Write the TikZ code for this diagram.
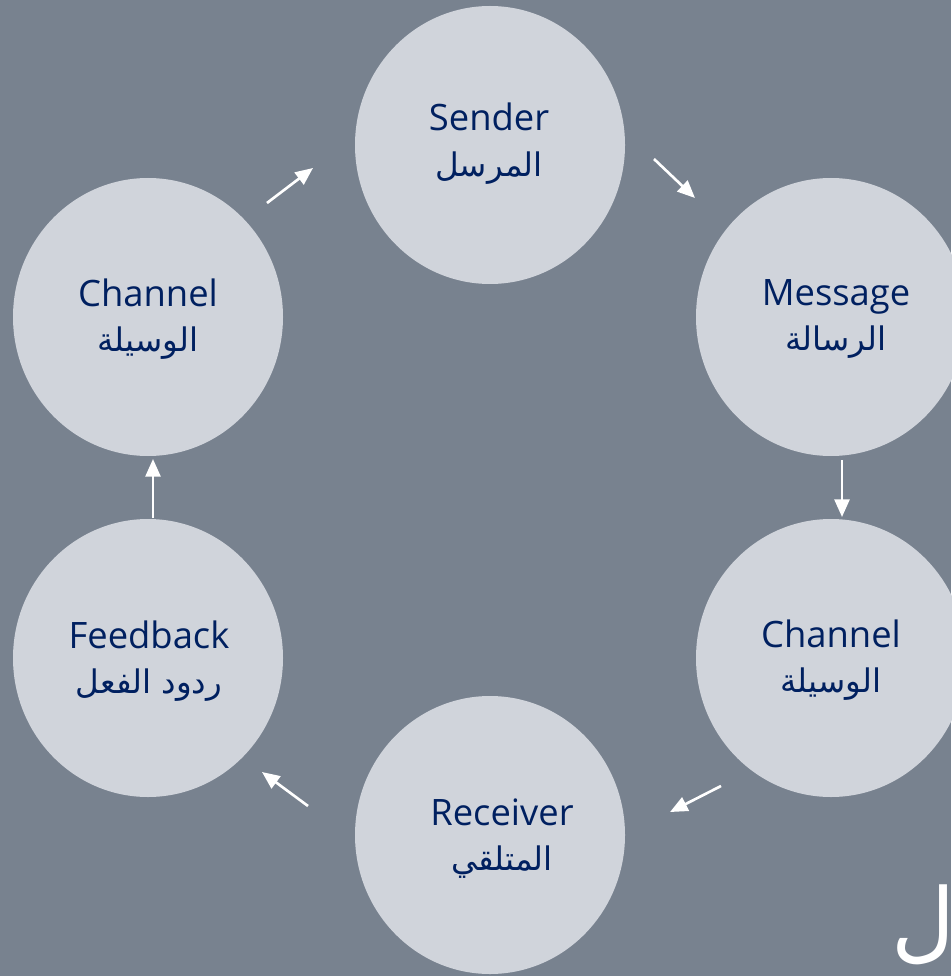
\documentclass[tikz,border=0pt]{standalone}
\usepackage{fontspec}
\setmainfont{Open Sans}
\newfontfamily\arabicfont[Script=Arabic]{DejaVu Sans}
\TeXXeTstate=1
\usetikzlibrary{arrows.meta,shapes.geometric}
\definecolor{bgc}{RGB}{120,130,143}
\definecolor{circc}{RGB}{208,212,219}
\definecolor{navy}{RGB}{0,32,96}
\tikzset{
  circ/.style={ellipse, fill=circc, minimum width=270*0.02cm, minimum height=278*0.02cm, inner sep=0pt},
  entext/.style={anchor=base, text=navy, font=\fontsize{20.7}{24}\selectfont},
  artext/.style={anchor=base, text=navy, font=\arabicfont\fontsize{18.5}{22}\selectfont},
  flow/.style={draw=white, line width=1.5pt, -{Triangle[length=10pt,width=8.5pt]}},
}
\begin{document}
\begin{tikzpicture}[x=0.02cm,y=-0.02cm]
\fill[bgc] (0,0) rectangle (951,976);
\useasboundingbox (0,0) rectangle (951,976);
% circles
\node[circ] (sender) at (490,145) {};
\node[circ] (message) at (831,317) {};
\node[circ] (channelR) at (831,658) {};
\node[circ] (receiver) at (490,835) {};
\node[circ] (feedback) at (148,658) {};
\node[circ] (channelL) at (148,317) {};
% labels
\node[entext] (senderE) at (489,131) {Sender};
\node[artext] (senderA) at (489,177) {\beginR المرسل\endR};
\node[entext] (messageE) at (836,305) {Message};
\node[artext] (messageA) at (836,350) {\beginR الرسالة\endR};
\node[entext] (channelRE) at (831,647) {Channel};
\node[artext] (channelRA) at (831,692) {\beginR الوسيلة\endR};
\node[entext] (receiverE) at (502,825) {Receiver};
\node[artext] (receiverA) at (502,870) {\beginR المتلقي\endR};
\node[entext] (feedbackE) at (149,648) {Feedback};
\node[artext] (feedbackA) at (149,693) {\beginR ردود الفعل\endR};
\node[entext] (channelLE) at (148,306) {Channel};
\node[artext] (channelLA) at (148,351) {\beginR الوسيلة\endR};
% big partial letter
\node[anchor=base east, text=white, font=\arabicfont\fontsize{50}{60}\selectfont, inner sep=0pt] (title) at (956,951) {\beginR ل\endR};
% arrow end points
\coordinate (a1s) at (267,203); \coordinate (a1e) at (313,168);
\coordinate (a2s) at (654,159); \coordinate (a2e) at (695,198);
\coordinate (a3s) at (842,460); \coordinate (a3e) at (842,517);
\coordinate (a4s) at (721,786); \coordinate (a4e) at (670,812);
\coordinate (a5s) at (308,806); \coordinate (a5e) at (262,772);
\coordinate (a6s) at (153,518); \coordinate (a6e) at (153,459);
\draw[flow] (a1s) -- (a1e);
\draw[flow] (a2s) -- (a2e);
\draw[flow] (a3s) -- (a3e);
\draw[flow] (a4s) -- (a4e);
\draw[flow] (a5s) -- (a5e);
\draw[flow] (a6s) -- (a6e);
\end{tikzpicture}
\end{document}
